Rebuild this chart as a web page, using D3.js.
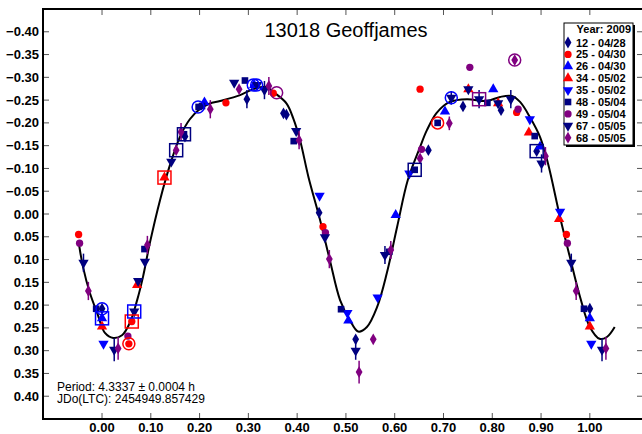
<!DOCTYPE html>
<html>
<head>
<meta charset="utf-8">
<script src="https://cdn.jsdelivr.net/npm/d3@7"></script>
<style>
  html, body { margin: 0; padding: 0; background: #fff; }
  svg { display: block; font-family: Arial, "Liberation Sans", sans-serif; }
</style>
</head>
<body>
<svg id="chart" width="642" height="434"></svg>
<script>
// Phased light curve of asteroid 13018 Geoffjames (2009 sessions).
// Each session: [phase, magnitude, errorHalfWidth]
const s12 = [[0.000,0.208,0],[0.297,-0.252,0.02],[0.372,-0.221,0],[0.378,-0.218,0],[0.445,-0.003,0],
             [0.520,0.275,0],[0.669,-0.140,0],[0.740,-0.236,0],[0.818,-0.228,0],[0.891,-0.138,0],[0.170,-0.170,0]];
const s25 = [[0.952,0.045,0],[0.055,0.285,0],[0.061,0.236,0],[0.254,-0.244,0],[0.351,-0.265,0],
             [0.453,0.028,0],[0.652,-0.274,0],[0.850,-0.223,0]];
const s26 = [[0.000,0.229,0],[0.505,0.234,0],[0.602,0.002,0],[0.703,-0.225,0],[0.802,-0.274,0],
             [0.898,-0.148,0],[0.312,-0.283,0],[0.210,-0.245,0]];
const s34 = [[0.000,0.247,0],[0.072,0.156,0],[0.128,-0.080,0],[0.751,-0.274,0],[0.812,-0.243,0],
             [0.875,-0.179,0],[0.937,0.011,0]];
const s35 = [[0.003,0.285,0],[0.446,-0.040,0],[0.503,0.217,0],[0.565,0.183,0],[0.630,-0.089,0],
             [0.877,-0.208,0],[0.939,-0.005,0]];
const s48 = [[0.988,0.208,0],[0.087,0.077,0],[0.168,-0.175,0],[0.198,-0.235,0],[0.205,-0.237,0],
             [0.293,-0.293,0],[0.393,-0.160,0],[0.490,0.209,0],[0.589,0.083,0],[0.641,-0.097,0],
             [0.688,-0.200,0],[0.790,-0.244,0],[0.887,-0.171,0]];
const s49 = [[0.954,0.064,0],[0.053,0.268,0],[0.458,0.041,0],[0.655,-0.142,0],[0.754,-0.322,0],
             [0.853,-0.230,0]];
const s67 = [[0.962,0.107,0.02],[0.025,0.298,0.025],[0.066,0.214,0],[0.074,0.147,0],[0.088,0.105,0],
             [0.271,-0.288,0],[0.333,-0.272,0.02],[0.398,-0.182,0],[0.457,0.051,0],[0.520,0.300,0.02],
             [0.580,0.090,0.02],[0.716,-0.255,0.015],[0.751,-0.274,0],[0.773,-0.252,0.02],[0.812,-0.243,0],
             [0.838,-0.252,0.02],[0.901,-0.111,0.02],[0.318,-0.283,0],[0.142,-0.115,0]];
const s68 = [[0.972,0.169,0.02],[0.033,0.295,0.025],[0.093,0.068,0.02],[0.281,-0.274,0],[0.342,-0.281,0.02],
             [0.404,-0.162,0.02],[0.466,0.099,0.02],[0.527,0.347,0.025],[0.556,0.275,0],[0.592,0.079,0.02],
             [0.652,-0.122,0],[0.712,-0.199,0.015],[0.846,-0.338,0],[0.909,-0.127,0.02],[0.152,-0.140,0],
             [0.162,-0.180,0.02],[0.222,-0.230,0.02]];

// Highlight rings / boxes drawn around selected observations
const ringCircles = [[0.000,0.208,"#0000ff"],[0.055,0.285,"#ff0000"],[0.197,-0.235,"#0000ff"],
                     [0.310,-0.283,"#0000ff"],[0.317,-0.283,"#0000ff"],[0.358,-0.266,"#800080"],
                     [0.688,-0.200,"#ff0000"],[0.716,-0.255,"#0000ff"],[0.846,-0.338,"#800080"]];
const ringSquares = [[0.000,0.229,"#0000ff"],[0.061,0.236,"#ff0000"],[0.066,0.214,"#0000ff"],
                     [0.128,-0.080,"#ff0000"],[0.152,-0.140,"#000080"],[0.168,-0.175,"#000080"],
                     [0.641,-0.097,"#000080"],[0.773,-0.252,"#800080"],[0.891,-0.138,"#000080"]];

// Fourier fit, sampled along phase
const fitPhase = [-0.047,-0.039,-0.025,-0.010,0.006,0.023,0.041,0.057,0.072,0.084,0.098,0.119,0.140,0.160,
                  0.180,0.200,0.220,0.242,0.283,0.310,0.337,0.351,0.378,0.392,0.406,0.423,0.447,0.467,
                  0.488,0.508,0.525,0.543,0.564,0.584,0.605,0.627,0.652,0.666,0.686,0.713,0.748,0.789,
                  0.816,0.840,0.857,0.877,0.898,0.914,0.939,0.959,0.980,1.000,1.020,1.035,1.051];
const fitMag   = [0.068,0.116,0.173,0.217,0.261,0.272,0.266,0.239,0.189,0.138,0.064,-0.031,-0.110,-0.170,
                  -0.208,-0.230,-0.242,-0.248,-0.261,-0.274,-0.279,-0.268,-0.243,-0.210,-0.162,-0.082,0.013,0.101,
                  0.189,0.233,0.258,0.248,0.204,0.129,0.028,-0.075,-0.147,-0.184,-0.222,-0.246,-0.252,-0.248,
                  -0.257,-0.259,-0.246,-0.213,-0.169,-0.112,0.007,0.094,0.182,0.248,0.274,0.270,0.248];

const xTicks = [0,0.1,0.2,0.3,0.4,0.5,0.6,0.7,0.8,0.9,1.0];
const yTicks = [-0.40,-0.35,-0.30,-0.25,-0.20,-0.15,-0.10,-0.05,0,0.05,0.10,0.15,0.20,0.25,0.30,0.35,0.40];

const sessions = [
  {label:"12 - 04/28", data:s12, color:"#000080", shape:"diamond"},
  {label:"25 - 04/30", data:s25, color:"#ff0000", shape:"circle"},
  {label:"26 - 04/30", data:s26, color:"#0000ff", shape:"up"},
  {label:"34 - 05/02", data:s34, color:"#ff0000", shape:"up"},
  {label:"35 - 05/02", data:s35, color:"#0000ff", shape:"down"},
  {label:"48 - 05/04", data:s48, color:"#000080", shape:"square"},
  {label:"49 - 05/04", data:s49, color:"#800080", shape:"circle"},
  {label:"67 - 05/05", data:s67, color:"#000080", shape:"down"},
  {label:"68 - 05/05", data:s68, color:"#800080", shape:"diamond"}
];

const svg = d3.select("#chart");
const plotL = 43, plotT = 9, plotR = 643, plotB = 419;
const x = d3.scaleLinear().domain([-0.121, 1.109]).range([plotL, plotR]);
const y = d3.scaleLinear().domain([-0.45, 0.45]).range([plotT, plotB]);

// Symbols
const symGen = {
  diamond: d3.symbol().type(d3.symbolDiamond).size(40),
  circle:  d3.symbol().type(d3.symbolCircle).size(42),
  up:      d3.symbol().type(d3.symbolTriangle).size(46),
  down:    d3.symbol().type(d3.symbolTriangle).size(46),
  square:  d3.symbol().type(d3.symbolSquare).size(44)
};
function placeSymbol(sel, shape, px, py) {
  sel.attr("d", symGen[shape]())
     .attr("transform", shape === "down"
        ? `translate(${px},${py}) rotate(180)`
        : `translate(${px},${py})`);
}

// Title
svg.append("text").attr("x", 346).attr("y", 37).attr("text-anchor", "middle")
  .attr("font-size", 20).attr("fill", "#000").text("13018 Geoffjames");

// Axis ticks (inward) on all four sides
const tickG = svg.append("g").attr("stroke", "#555").attr("stroke-width", 1);
xTicks.forEach(t => {
  tickG.append("line").attr("x1", x(t)).attr("x2", x(t)).attr("y1", plotB).attr("y2", plotB - 6);
  tickG.append("line").attr("x1", x(t)).attr("x2", x(t)).attr("y1", plotT).attr("y2", plotT + 6);
});
yTicks.forEach(t => {
  tickG.append("line").attr("x1", plotL).attr("x2", plotL + 6).attr("y1", y(t)).attr("y2", y(t));
  tickG.append("line").attr("x1", plotR).attr("x2", plotR - 6).attr("y1", y(t)).attr("y2", y(t));
});

const fmt = d3.format(".2f");
svg.append("g").selectAll("text").data(xTicks).join("text")
  .attr("x", d => x(d)).attr("y", 432).attr("text-anchor", "middle")
  .attr("font-size", 13).attr("font-weight", "bold").text(d => fmt(d));
svg.append("g").selectAll("text").data(yTicks).join("text")
  .attr("x", 39).attr("y", d => y(d) + 4.6).attr("text-anchor", "end")
  .attr("font-size", 13).attr("font-weight", "bold").text(d => fmt(d));

// Fit curve
const fit = fitPhase.map((p, i) => [p, fitMag[i]]);
svg.append("path").datum(fit)
  .attr("fill", "none").attr("stroke", "#000").attr("stroke-width", 2)
  .attr("d", d3.line().x(d => x(d[0])).y(d => y(d[1])).curve(d3.curveCatmullRom.alpha(0.5)));

// Observations, repeated beyond either end of the phase range
function wrapped(data) {
  const out = [];
  data.forEach(d => {
    out.push(d);
    if (d[0] < 0.05) out.push([d[0] + 1, d[1], d[2]]);
    if (d[0] >= 0.95) out.push([d[0] - 1, d[1], d[2]]);
  });
  return out;
}
const obsG = svg.append("g");
sessions.forEach(s => {
  const pts = wrapped(s.data);
  pts.filter(d => d[2] > 0).forEach(d => {
    obsG.append("line").attr("x1", x(d[0])).attr("x2", x(d[0]))
      .attr("y1", y(d[1] - d[2])).attr("y2", y(d[1] + d[2]))
      .attr("stroke", s.color).attr("stroke-width", 1.5);
  });
  pts.forEach(d => {
    obsG.append("path").attr("fill", s.color).call(placeSymbol, s.shape, x(d[0]), y(d[1]));
  });
});

// Highlight rings and boxes
svg.append("g").selectAll("circle").data(ringCircles).join("circle")
  .attr("cx", d => x(d[0])).attr("cy", d => y(d[1])).attr("r", 6)
  .attr("fill", "none").attr("stroke", d => d[2]).attr("stroke-width", 1.5);
svg.append("g").selectAll("rect").data(ringSquares).join("rect")
  .attr("x", d => x(d[0]) - 6.5).attr("y", d => y(d[1]) - 6.5).attr("width", 13).attr("height", 13)
  .attr("fill", "none").attr("stroke", d => d[2]).attr("stroke-width", 1.5);

// Frame
svg.append("rect").attr("x", plotL).attr("y", plotT).attr("width", plotR - plotL).attr("height", plotB - plotT)
  .attr("fill", "none").attr("stroke", "#000").attr("stroke-width", 2);

// Period annotation
svg.append("text").attr("x", 57).attr("y", 390.5).attr("font-size", 12).text("Period: 4.3337 \u00b1 0.0004 h");
svg.append("text").attr("x", 57).attr("y", 403).attr("font-size", 12).text("JDo(LTC): 2454949.857429");

// Legend
const lg = svg.append("g");
const lx = 564, ly = 23, lw = 69, lh = 122;
lg.append("rect").attr("x", lx + 2).attr("y", ly + 2).attr("width", lw).attr("height", lh).attr("fill", "#000");
lg.append("rect").attr("x", lx).attr("y", ly).attr("width", lw).attr("height", lh)
  .attr("fill", "#fff").attr("stroke", "#000").attr("stroke-width", 1);
lg.append("text").attr("x", lx + lw - 2).attr("y", ly + 10).attr("text-anchor", "end")
  .attr("font-size", 11).attr("font-weight", "bold").text("Year: 2009");
sessions.forEach((s, i) => {
  const cy = ly + 19.5 + i * 11.9;
  lg.append("path").attr("fill", s.color).call(placeSymbol, s.shape, lx + 4, cy);
  lg.append("text").attr("x", lx + 12).attr("y", cy + 4).attr("font-size", 11)
    .attr("font-weight", "bold").text(s.label);
});
</script>
</body>
</html>
